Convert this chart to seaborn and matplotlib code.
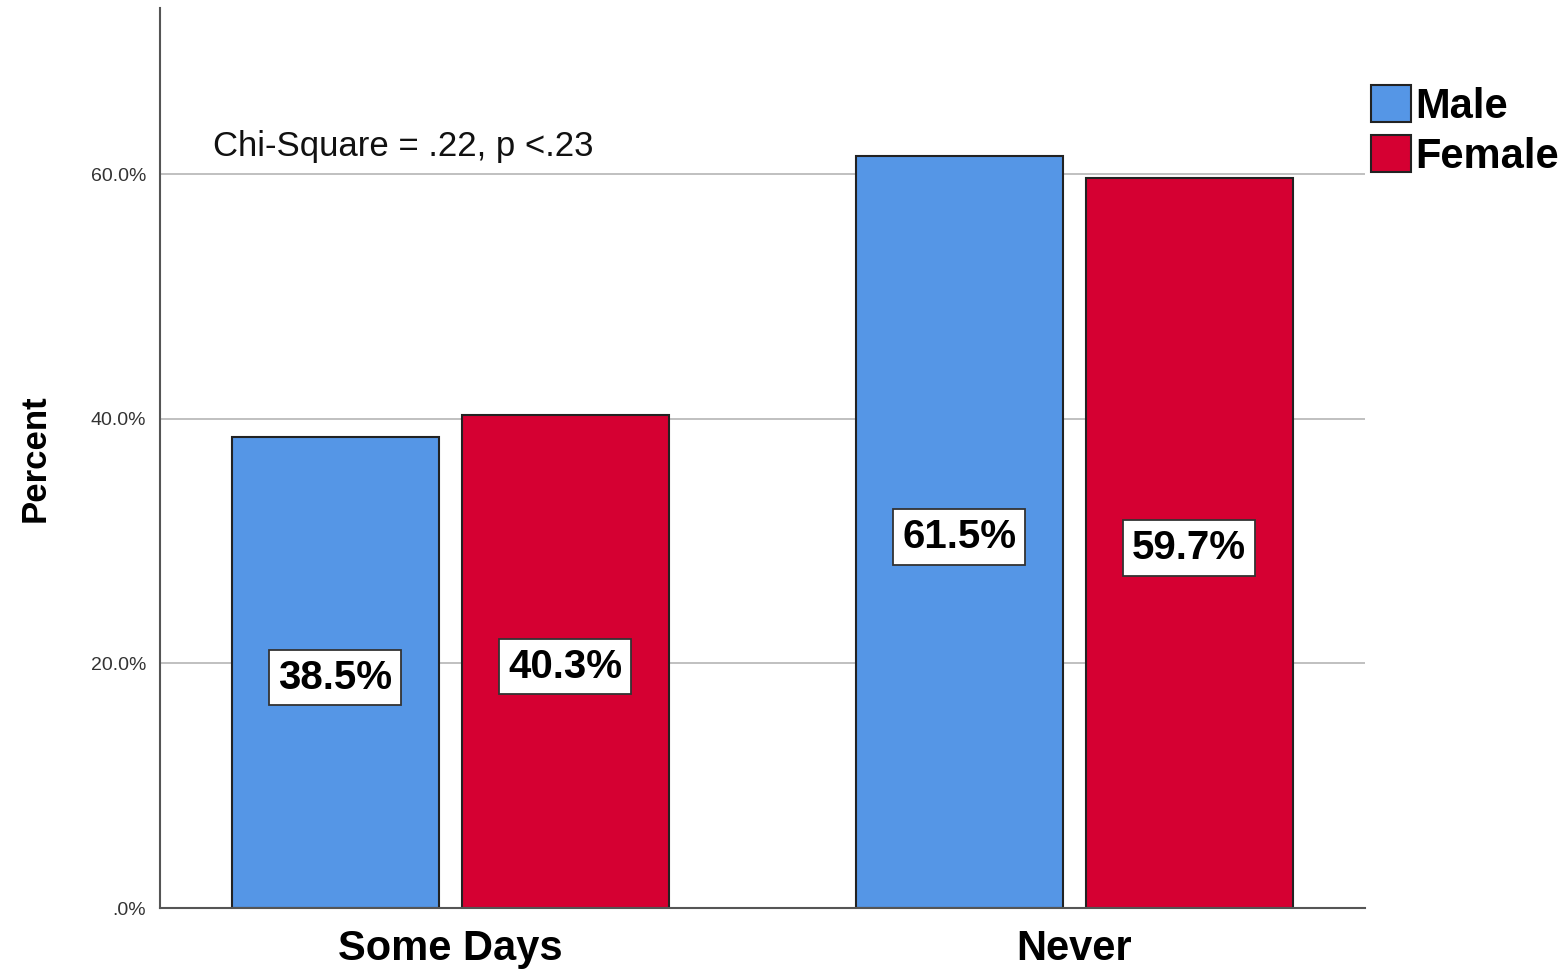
import matplotlib
matplotlib.use("Agg")
import matplotlib.pyplot as plt
import seaborn as sns
import pandas as pd
from matplotlib.patches import Patch

categories = ["Some Days", "Never"]
genders = ["Male", "Female"]
male_values = [38.5, 61.5]
female_values = [40.3, 59.7]
yticks = [0, 20, 40, 60]
ytick_labels = [".0%", "20.0%", "40.0%", "60.0%"]
annotation = "Chi-Square = .22, p <.23"

df = pd.DataFrame({
    "Category": categories * 2,
    "Gender": [genders[0]] * 2 + [genders[1]] * 2,
    "Percent": male_values + female_values,
})

sns.set_theme(style="white")
plt.rcParams["font.family"] = ["Liberation Sans", "DejaVu Sans"]
plt.rcParams["text.color"] = "black"

colors = {"Male": "#5596E6", "Female": "#D50032"}

fig = plt.figure(figsize=(15.64, 9.72), dpi=100)
ax = fig.add_axes([0.1023, 0.0658, 0.7705, 0.9260])

for y in yticks[1:]:
    ax.axhline(y, color="#bbbbbb", lw=1.3, zorder=0)

sns.barplot(data=df, x="Category", y="Percent", hue="Gender", order=categories,
            hue_order=genders, palette=colors, saturation=1, width=0.737, gap=0.1,
            edgecolor="#222222", linewidth=1.5, ax=ax, legend=False, zorder=2)

for cont in ax.containers:
    for bar in cont:
        h = bar.get_height()
        ax.text(bar.get_x() + bar.get_width() / 2, h / 2 - 0.4, f"{h:.1f}%",
                ha="center", va="center", fontsize=29, fontweight="bold",
                color="black", zorder=5,
                bbox=dict(boxstyle="square,pad=0.22", fc="white", ec="#333333", lw=1.3))

ax.set_xlim(-0.465, 1.466)
ax.set_ylim(0, 73.6)
ax.set_yticks(yticks)
ax.set_yticklabels(ytick_labels, fontsize=14, color="#333333")
ax.tick_params(axis="y", length=0, pad=10)
ax.tick_params(axis="x", length=0, pad=15)
for lbl in ax.get_xticklabels():
    lbl.set_fontsize(30)
    lbl.set_fontweight("bold")
    lbl.set_color("black")
ax.set_xlabel("")
ax.set_ylabel("Percent", fontsize=25, fontweight="bold", labelpad=28, color="black")

for s in ["top", "right"]:
    ax.spines[s].set_visible(False)
for s in ["left", "bottom"]:
    ax.spines[s].set_color("#555555")
    ax.spines[s].set_linewidth(1.5)

ax.text(0.044, 0.846, annotation, transform=ax.transAxes, fontsize=25,
        ha="left", va="center", color="#111111")

handles = [Patch(facecolor=colors[g], edgecolor="#222222", lw=1.5, label=g) for g in genders]
leg = fig.legend(handles=handles, loc="upper left", bbox_to_anchor=(0.866, 0.93),
                 frameon=False, prop={"weight": "bold", "size": 30},
                 handlelength=0.95, handleheight=1.0, handletextpad=0.1, labelspacing=0.2,
                 borderaxespad=0)
for t in leg.get_texts():
    t.set_color("black")

fig.savefig("out.png", dpi=100)
